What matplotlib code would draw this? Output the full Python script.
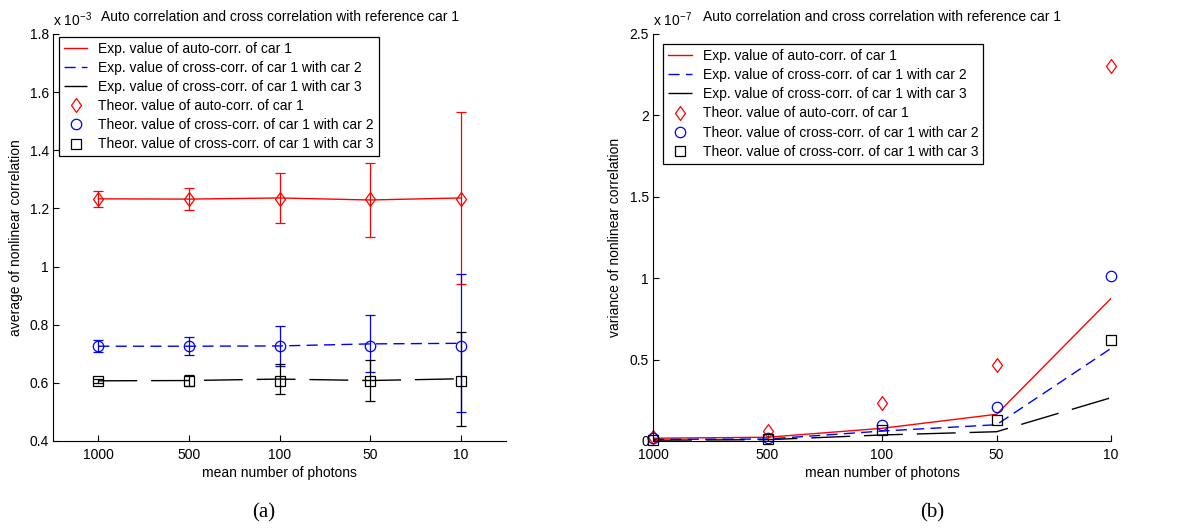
"""
Auto / cross correlation of reference car 1 versus mean number of photons
(a) average of nonlinear correlation, (b) variance of nonlinear correlation
"""
import matplotlib

matplotlib.use("Agg")
import matplotlib.pyplot as plt
import numpy as np
from matplotlib.path import Path

plt.rcParams["font.family"] = ["Liberation Sans", "DejaVu Sans"]
plt.rcParams["mathtext.fontset"] = "custom"
plt.rcParams["mathtext.rm"] = "Liberation Sans"
plt.rcParams["mathtext.it"] = "Liberation Sans"
plt.rcParams["lines.scale_dashes"] = False

# x categories
photons = ["1000", "500", "100", "50", "10"]

# (a) averages, in units of 1e-3
auto_exp_mean = [1.233, 1.232, 1.236, 1.229, 1.236]
auto_exp_err = [0.028, 0.038, 0.087, 0.126, 0.295]
cross2_exp_mean = [0.726, 0.726, 0.727, 0.734, 0.736]
cross2_exp_err = [0.020, 0.031, 0.070, 0.098, 0.237]
cross3_exp_mean = [0.607, 0.608, 0.613, 0.608, 0.614]
cross3_exp_err = [0.006, 0.019, 0.052, 0.070, 0.162]
auto_theor_mean = [1.233, 1.233, 1.233, 1.233, 1.233]
cross2_theor_mean = [0.726, 0.726, 0.726, 0.726, 0.726]
cross3_theor_mean = [0.607, 0.607, 0.607, 0.607, 0.607]

# (b) variances, in units of 1e-7
auto_exp_var = [0.017, 0.023, 0.078, 0.164, 0.876]
cross2_exp_var = [0.010, 0.012, 0.061, 0.100, 0.569]
cross3_exp_var = [0.005, 0.008, 0.037, 0.057, 0.266]
auto_theor_var = [0.026, 0.060, 0.233, 0.467, 2.305]
cross2_theor_var = [0.018, 0.017, 0.100, 0.207, 1.015]
cross3_theor_var = [0.008, 0.010, 0.068, 0.129, 0.620]

LABELS = [
    "Exp. value of auto-corr. of car 1",
    "Exp. value of cross-corr. of car 1 with car 2",
    "Exp. value of cross-corr. of car 1 with car 3",
    "Theor. value of auto-corr. of car 1",
    "Theor. value of cross-corr. of car 1 with car 2",
    "Theor. value of cross-corr. of car 1 with car 3",
]
TITLE = "Auto correlation and cross correlation with reference car 1"
COLORS = ["red", "blue", "black"]
DASHES = [None, (8, 4.5), (28, 10)]

# MATLAB-like diamond (a bit wider than matplotlib's thin diamond)
DIAMOND = Path([(0, 1), (0.72, 0), (0, -1), (-0.72, 0), (0, 1)],
               [Path.MOVETO, Path.LINETO, Path.LINETO, Path.LINETO, Path.CLOSEPOLY])
MARKERS = [(DIAMOND, 10), ("o", 7.5), ("s", 7)]


def style_axes(ax, ylim, yticks, exp_label, ylabel, xlim):
    ax.set_xlim(*xlim)
    ax.set_ylim(*ylim)
    ax.set_xticks(np.arange(1, 6))
    ax.set_xticklabels(photons)
    ax.set_yticks(yticks)
    ax.set_yticklabels([f"{t:g}" for t in yticks])
    ax.tick_params(direction="in", length=4, labelsize=10, pad=3)
    ax.tick_params(axis="x", pad=5)
    for side in ("top", "right"):
        ax.spines[side].set_visible(False)
    for side in ("left", "bottom"):
        ax.spines[side].set_linewidth(0.8)
    ax.set_title(TITLE, fontsize=10, pad=9)
    ax.text(0, 1.012, exp_label, transform=ax.transAxes, fontsize=10,
            ha="left", va="bottom")
    ax.set_ylabel(ylabel, fontsize=10)
    ax.yaxis.set_label_coords(-0.067, 0.5)
    ax.set_xlabel("mean number of photons", fontsize=10)
    ax.xaxis.set_label_coords(0.5, -0.062)


def draw_series(ax, exp_vals, theor_vals, errs=None):
    x = np.arange(1, 6)
    # experimental curves
    for vals, color, dash, label in zip(exp_vals, COLORS, DASHES, LABELS[:3]):
        line, = ax.plot(x, vals, color=color, lw=1.0, label=label)
        if dash is not None:
            line.set_dashes(dash)
    # error bars on the experimental values
    if errs is not None:
        for vals, err, color in zip(exp_vals, errs, COLORS):
            ax.errorbar(x, vals, yerr=err, fmt="none", ecolor=color,
                        elinewidth=0.9, capsize=3.6, capthick=0.9)
    # theoretical values as open markers
    for vals, color, (mk, ms), label in zip(theor_vals, COLORS, MARKERS, LABELS[3:]):
        ax.plot(x, vals, linestyle="none", marker=mk, markersize=ms,
                markerfacecolor="none", markeredgecolor=color,
                markeredgewidth=0.9, label=label, clip_on=False)


def add_legend(ax, anchor):
    leg = ax.legend(loc="upper left", bbox_to_anchor=anchor, fontsize=10,
                    frameon=True, fancybox=False, framealpha=1,
                    edgecolor="black", handlelength=1.7, handletextpad=0.8,
                    labelspacing=0.37, borderpad=0.35, borderaxespad=0)
    leg.get_frame().set_linewidth(0.9)


fig = plt.figure(figsize=(11.91, 5.31), dpi=100)
ax_a = fig.add_axes([0.0445, 0.1695, 0.3804, 0.7665])
ax_b = fig.add_axes([0.5483, 0.1695, 0.3846, 0.7665])

# (a) average
draw_series(ax_a,
            [auto_exp_mean, cross2_exp_mean, cross3_exp_mean],
            [auto_theor_mean, cross2_theor_mean, cross3_theor_mean],
            [auto_exp_err, cross2_exp_err, cross3_exp_err])
style_axes(ax_a, (0.4, 1.8), np.arange(0.4, 1.81, 0.2).round(1),
           r"x 10$^{-3}$", "average of nonlinear correlation", (0.5, 5.5))
add_legend(ax_a, (0.013, 0.993))

# (b) variance
draw_series(ax_b,
            [auto_exp_var, cross2_exp_var, cross3_exp_var],
            [auto_theor_var, cross2_theor_var, cross3_theor_var])
style_axes(ax_b, (0, 2.5), np.arange(0, 2.51, 0.5).round(1),
           r"x 10$^{-7}$", "variance of nonlinear correlation", (1, 5))
add_legend(ax_b, (0.022, 0.975))

fig.text(0.2217, 0.034, "(a)", fontsize=15, family=["Liberation Serif", "DejaVu Serif"],
         ha="center", va="center")
fig.text(0.7825, 0.034, "(b)", fontsize=15, family=["Liberation Serif", "DejaVu Serif"],
         ha="center", va="center")

fig.savefig("out.png", dpi=100)
